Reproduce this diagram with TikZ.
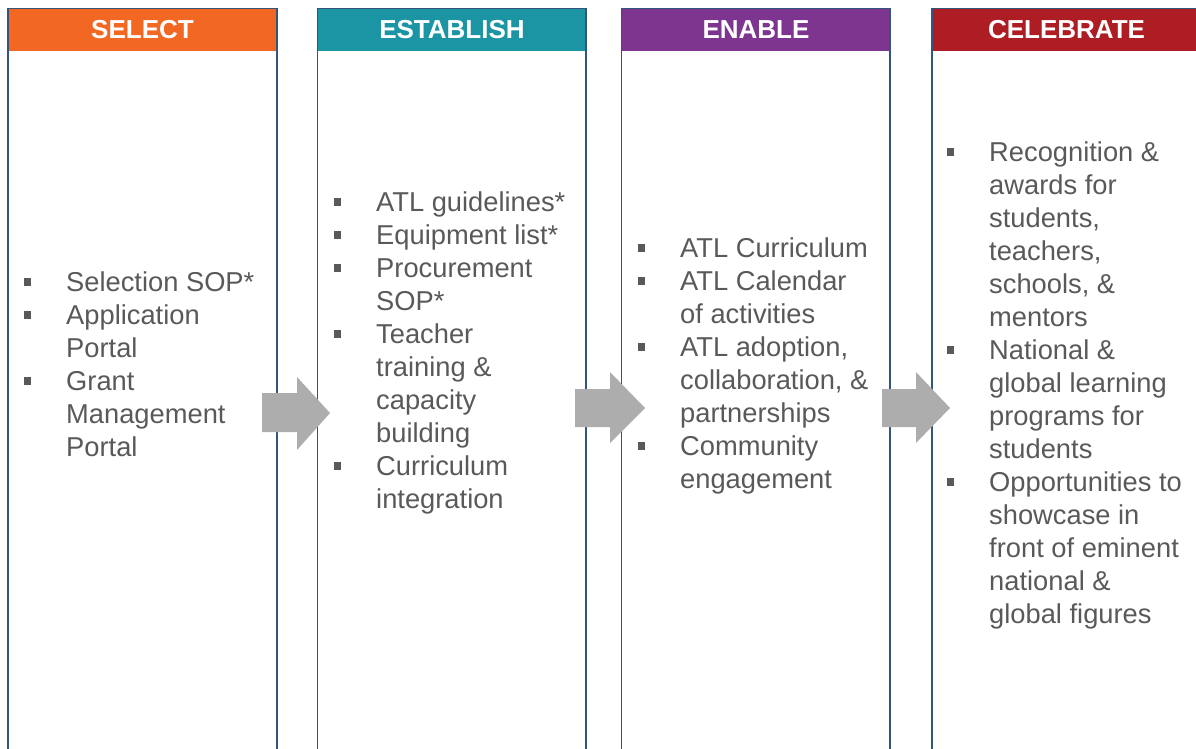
\documentclass[tikz,border=0pt]{standalone}
\usepackage{fontspec}
\setmainfont{Liberation Sans}
\usepackage{tikz}

\definecolor{selorange}{HTML}{F26722}
\definecolor{estteal}{HTML}{1B95A3}
\definecolor{enapurple}{HTML}{7D3590}
\definecolor{celred}{HTML}{AD1D23}
\definecolor{colblue}{HTML}{34557A}
\definecolor{textgray}{HTML}{595959}
\definecolor{arrowgray}{HTML}{ADADAD}

\newcommand{\itm}{\leavevmode\llap{\textcolor{textgray}{\rule[6pt]{7.5pt}{7.5pt}}\hspace{35pt}}}

\begin{document}
\begin{tikzpicture}[x=1pt,y=-1pt]
		\useasboundingbox (0,0) rectangle (1196,749);
		\tikzset{head/.style={fill=#1,text=white,minimum width=269pt,minimum height=42pt,inner sep=0pt,font=\bfseries\fontsize{26}{26}\selectfont}} %column headers
		\tikzset{colline/.style={draw=colblue,line width=1.4pt}}
		\tikzset{items/.style={anchor=north west,align=left,inner sep=0pt,text=textgray,font=\fontsize{27.3}{33}\selectfont}}
		\tikzset{blockarrow/.style={fill=arrowgray}}
		\node[head=selorange] (sel) at (142.5,30) {SELECT}; %headers
		\node[head=estteal] (est) at (452,30) {ESTABLISH};
		\node[head=enapurple] (ena) at (756,30) {ENABLE};
		\node[head=celred] (cel) at (1066.5,30) {CELEBRATE};
		\draw[colline] (sel.north west) rectangle (277,770); %column frames
		\draw[colline] (est.north west) rectangle (586,770);
		\draw[colline] (ena.north west) rectangle (890,770);
		\draw[colline] (cel.north west) rectangle (1201,770);
		\fill[blockarrow] (262,393) -- ++(35,0) -- ++(0,-16) -- (330,413) -- (297,450) -- ++(0,-18) -- (262,432) -- cycle; %grey arrows
		\fill[blockarrow] (575,389) -- ++(35,0) -- ++(0,-17) -- (645,408) -- (610,443) -- ++(0,-16) -- (575,427) -- cycle;
		\fill[blockarrow] (882,389) -- ++(34,0) -- ++(0,-17) -- (950,408) -- (916,443) -- ++(0,-16) -- (882,427) -- cycle;
		\node[items] (seltext) at (66,272) {\itm Selection SOP*\\ \itm Application\\ Portal\\ \itm Grant\\ Management\\ Portal}; %bullet lists
		\node[items] (esttext) at (376,192) {\itm ATL guidelines*\\ \itm Equipment list*\\ \itm Procurement\\ SOP*\\ \itm Teacher\\ training \&\\ capacity\\ building\\ \itm Curriculum\\ integration};
		\node[items] (enatext) at (680,238) {\itm ATL Curriculum\\ \itm ATL Calendar\\ of activities\\ \itm ATL adoption,\\ collaboration, \&\\ partnerships\\ \itm Community\\ engagement};
		\node[items] (celtext) at (989,142) {\itm Recognition \&\\ awards for\\ students,\\ teachers,\\ schools, \&\\ mentors\\ \itm National \&\\ global learning\\ programs for\\ students\\ \itm Opportunities to\\ showcase in\\ front of eminent\\ national \&\\ global figures};
	\end{tikzpicture}
\end{document}
